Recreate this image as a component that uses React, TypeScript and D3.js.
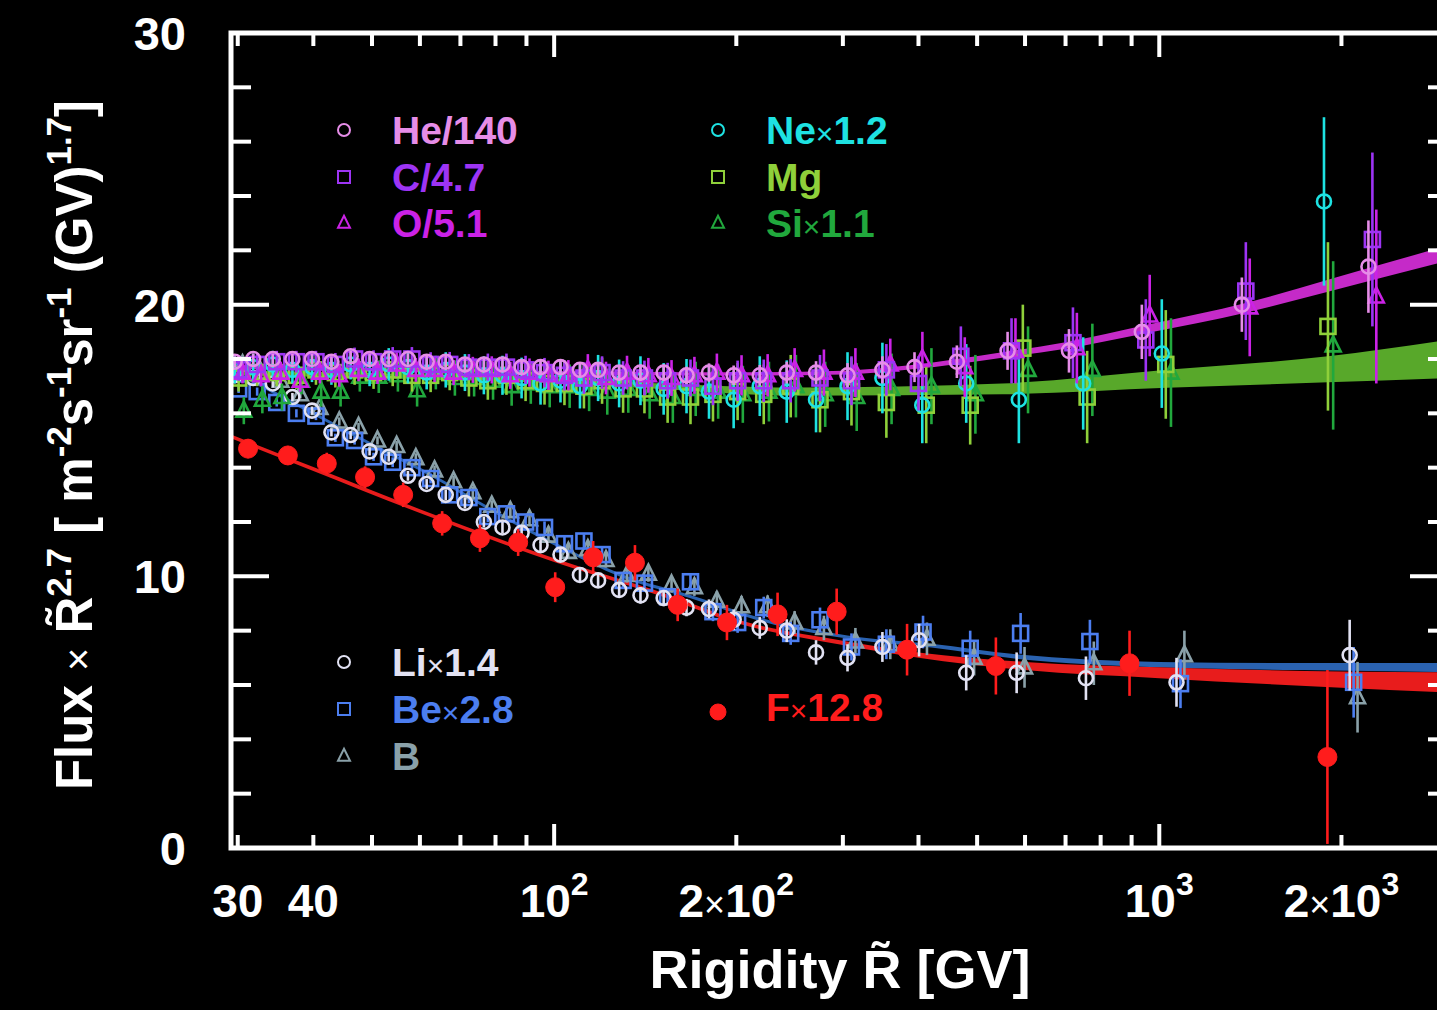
import { useEffect, useRef } from 'react'
import * as d3 from 'd3'

const W = 1437
const H = 1010
const FONT = '"Liberation Sans", Arial, Helvetica, sans-serif'

// rigidity bins (GV) shared below 360 GV
const binsLow = [30.1, 32.3, 34.8, 37.5, 40.4, 43.5, 46.8, 50.3, 54.1, 58.2, 62.5, 67.2, 72.3, 77.7, 83.4, 89.7, 96.4, 104, 112, 120, 130, 141, 154, 168, 183, 201, 222, 246, 275, 310, 354]
const binsHCO = [...binsLow, 400, 470, 570, 720, 950, 1390, 2250]
const binsNMS = [...binsLow, 412, 487, 595, 760, 1025, 1900]
const binsLBB = [...binsLow, 407, 487, 590, 768, 1084, 2095]
const binsF = [31.2, 36.3, 42.1, 48.7, 56.3, 65.3, 75.4, 87.2, 100.4, 116, 136, 160, 193, 234, 293, 383, 537, 893, 1896]

// flux x R^2.7 (scaled)
const heVals = [17.9, 18.0, 18.0, 18.0, 18.0, 17.9, 18.1, 18.0, 18.0, 18.0, 17.9, 17.9, 17.8, 17.8, 17.8, 17.7, 17.7, 17.7, 17.6, 17.6, 17.5, 17.5, 17.5, 17.4, 17.5, 17.4, 17.4, 17.5, 17.5, 17.4, 17.6, 17.7, 17.9, 18.3, 18.3, 19.0, 20.0, 21.4]
const cVals = [17.6, 17.8, 17.9, 17.9, 17.9, 17.8, 18.0, 17.9, 18.0, 18.0, 17.8, 17.8, 17.7, 17.7, 17.7, 17.6, 17.5, 17.4, 17.3, 17.5, 17.3, 17.3, 17.2, 17.3, 17.0, 17.2, 17.2, 17.2, 17.3, 17.2, 17.6, 17.1, 18.1, 18.3, 18.6, 18.7, 20.5, 22.4]
const oVals = [17.5, 17.4, 17.5, 17.2, 17.5, 17.4, 17.6, 17.5, 17.8, 17.6, 17.6, 17.5, 17.6, 17.6, 17.4, 17.5, 17.4, 17.4, 17.6, 17.3, 17.5, 17.4, 17.3, 17.4, 17.5, 17.4, 17.4, 17.6, 17.5, 17.5, 17.8, 18.0, 17.7, 18.3, 18.4, 19.6, 19.9, 20.3]
const neVals = [17.6, 17.7, 17.8, 17.6, 17.7, 17.6, 17.8, 17.6, 17.8, 17.7, 17.5, 17.6, 17.5, 17.4, 17.4, 17.3, 17.1, 17.2, 17.0, 17.3, 17.1, 17.2, 16.9, 17.0, 16.8, 16.5, 17.0, 16.8, 16.5, 17.0, 17.3, 16.3, 17.1, 16.5, 17.1, 18.2, 23.8]
const mgVals = [17.3, 17.5, 17.5, 17.4, 17.6, 17.5, 17.6, 17.5, 17.6, 17.4, 17.4, 17.5, 17.3, 17.2, 17.4, 17.2, 17.1, 17.1, 17.0, 17.2, 16.9, 16.9, 16.6, 16.6, 16.7, 16.8, 16.7, 17.0, 16.5, 16.8, 16.4, 16.3, 16.3, 18.4, 16.6, 17.8, 19.2]
const siVals = [16.1, 16.5, 16.6, 17.2, 16.8, 16.8, 17.35, 17.35, 17.4, 16.85, 17.5, 17.3, 17.3, 17.2, 17.0, 17.1, 17.0, 17.0, 16.9, 16.8, 16.9, 16.7, 16.6, 16.9, 16.8, 16.7, 16.8, 17.0, 16.7, 16.6, 16.9, 17.0, 16.7, 17.6, 17.6, 17.5, 18.5]
const liVals = [17.4, 17.3, 17.1, 16.6, 16.1, 15.3, 15.2, 14.6, 14.4, 13.7, 13.4, 13.0, 12.7, 12.0, 11.8, 11.6, 11.15, 10.8, 10.05, 9.85, 9.5, 9.3, 9.2, 8.85, 8.8, 8.4, 8.1, 8.0, 7.2, 7.0, 7.4, 7.65, 6.45, 6.45, 6.25, 6.1, 7.1]
const beVals = [16.9, 16.8, 16.4, 16.0, 15.9, 15.1, 15.0, 14.4, 14.2, 14.0, 13.6, 13.0, 12.9, 12.2, 12.3, 12.0, 11.8, 11.2, 11.3, 10.8, 9.85, 9.75, 9.25, 9.8, 8.7, 8.3, 8.85, 7.9, 8.4, 7.4, 7.5, 7.95, 7.35, 7.9, 7.6, 6.05, 6.1]
const bVals = [17.8, 17.5, 17.2, 16.7, 16.2, 15.7, 15.5, 15.0, 14.8, 14.35, 13.9, 13.5, 13.1, 12.6, 12.4, 12.1, 11.5, 10.9, 11.0, 10.6, 10.05, 10.1, 9.7, 9.6, 9.1, 8.9, 8.9, 8.3, 8.1, 7.6, 7.5, 7.7, 7.0, 6.65, 6.8, 7.1, 5.55]
const fVals = [14.7, 14.45, 14.15, 13.65, 13.0, 11.95, 11.4, 11.25, 9.6, 10.7, 10.5, 8.95, 8.3, 8.6, 8.7, 7.3, 6.7, 6.8, 3.35]

// errors
const errHe = [0.2, 0.2, 0.2, 0.2, 0.2, 0.2, 0.2, 0.2, 0.2, 0.2, 0.22, 0.22, 0.22, 0.22, 0.24, 0.24, 0.24, 0.25, 0.25, 0.27, 0.28, 0.3, 0.3, 0.32, 0.34, 0.36, 0.38, 0.4, 0.42, 0.45, 0.5, 0.55, 0.6, 0.7, 0.8, 1.0, 1.0, 1.7]
const errCO = [0.4, 0.4, 0.4, 0.4, 0.4, 0.42, 0.42, 0.42, 0.44, 0.44, 0.45, 0.46, 0.48, 0.5, 0.5, 0.52, 0.54, 0.56, 0.58, 0.6, 0.62, 0.64, 0.66, 0.68, 0.7, 0.74, 0.78, 0.8, 0.85, 0.9, 0.95, 1.0, 1.1, 1.2, 1.3, 1.5, 1.8, 3.2]
const errNMS = [0.5, 0.5, 0.5, 0.5, 0.55, 0.55, 0.55, 0.6, 0.6, 0.6, 0.62, 0.65, 0.68, 0.7, 0.72, 0.75, 0.78, 0.8, 0.82, 0.85, 0.88, 0.9, 0.95, 1.0, 1.0, 1.05, 1.1, 1.15, 1.2, 1.25, 1.3, 1.4, 1.45, 1.6, 1.7, 2.0, 3.1]
const errLBB = [0.15, 0.15, 0.15, 0.15, 0.15, 0.15, 0.15, 0.15, 0.18, 0.18, 0.18, 0.2, 0.2, 0.2, 0.22, 0.22, 0.22, 0.25, 0.25, 0.28, 0.28, 0.3, 0.3, 0.32, 0.35, 0.38, 0.4, 0.42, 0.45, 0.5, 0.55, 0.6, 0.65, 0.75, 0.8, 0.9, 1.3]
const errF = [0.35, 0.35, 0.4, 0.4, 0.45, 0.45, 0.5, 0.5, 0.55, 0.6, 0.65, 0.6, 0.65, 0.8, 0.85, 0.95, 1.05, 1.2, 3.2]

// fitted bands: rigidity, centre, half width
const magR = [29.24, 50, 100, 200, 300, 390, 550, 700, 950, 1400, 1900, 3000]
const magC = [17.7, 17.6, 17.5, 17.45, 17.5, 17.7, 18.15, 18.5, 19.1, 19.9, 20.7, 21.9]
const magH = [0.06, 0.06, 0.06, 0.06, 0.07, 0.08, 0.1, 0.12, 0.15, 0.18, 0.22, 0.28]
const grnR = [29.24, 60, 100, 150, 250, 550, 1030, 1900, 3000]
const grnC = [17.5, 17.35, 17.2, 17.0, 16.8, 16.9, 17.27, 17.62, 18.0]
const grnH = [0.09, 0.09, 0.09, 0.1, 0.15, 0.2, 0.33, 0.48, 0.7]
const bluR = [29.24, 40, 50, 63, 78, 100, 130, 168, 220, 320, 420, 580, 1000, 1700, 3000]
const bluC = [17.6, 16.0, 14.85, 13.7, 12.5, 11.2, 10.0, 9.25, 8.4, 7.7, 7.45, 7.05, 6.75, 6.68, 6.64]
const bluH = [0.06, 0.06, 0.06, 0.06, 0.06, 0.06, 0.06, 0.06, 0.06, 0.06, 0.07, 0.08, 0.1, 0.13, 0.17]
const redR = [29.24, 40, 60, 100, 150, 200, 300, 400, 600, 1000, 2000, 3000]
const redC = [15.15, 13.95, 12.4, 10.6, 9.35, 8.35, 7.55, 7.1, 6.7, 6.45, 6.2, 6.1]
const redH = [0.07, 0.07, 0.07, 0.07, 0.07, 0.07, 0.08, 0.1, 0.15, 0.2, 0.3, 0.37]

const xTickMinor = [30, 40, 50, 60, 70, 80, 90, 200, 300, 400, 500, 600, 700, 800, 900, 2000]
const xTickMajor = [100, 1000]
const yTickMinor = [2, 4, 6, 8, 12, 14, 16, 18, 22, 24, 26, 28]
const yTickMajor = [0, 10, 20, 30]

const COL = {
  he: '#e68de8', c: '#9d34f4', o: '#cb22e6', ne: '#1ee2e2', mg: '#8fd03a', si: '#21a83d',
  li: '#e2e2f3', be: '#4c7ef0', b: '#8aa1a9', f: '#ff1c1c',
}

export default function App() {
  const svgRef = useRef(null)

  useEffect(() => {
    const svg = d3.select(svgRef.current)
    svg.selectAll('*').remove()

    const x = d3.scaleLog().domain([29.24, 3000]).range([231, 1448])
    const y = d3.scaleLinear().domain([0, 30]).range([848, 33])
    const X0 = 231, X1 = 1448, Y0 = 848, Y1 = 33

    svg.append('rect').attr('width', W).attr('height', H).attr('fill', '#000')

    svg.append('clipPath').attr('id', 'plotclip').append('rect')
      .attr('x', X0).attr('y', Y1).attr('width', X1 - X0).attr('height', Y0 - Y1)
    const plot = svg.append('g').attr('clip-path', 'url(#plotclip)')

    // fit bands
    const band = (rs, cs, hs, color) => {
      const pts = rs.map((r, i) => ({ r, lo: cs[i] - hs[i], hi: cs[i] + hs[i] }))
      const area = d3.area().x(d => x(d.r)).y0(d => y(d.lo)).y1(d => y(d.hi)).curve(d3.curveMonotoneX)
      plot.append('path').attr('d', area(pts)).attr('fill', color)
    }
    band(grnR, grnC, grnH, '#58a82a')
    band(magR, magC, magH, '#c52ac8')
    band(bluR, bluC, bluH, '#2a62b0')
    band(redR, redC, redH, '#e81c1c')

    const marker = (g, shape, cx, cy, s, color, sw, filled) => {
      if (shape === 'circle') {
        g.append('circle').attr('cx', cx).attr('cy', cy).attr('r', s / 2)
          .attr('fill', filled ? color : 'none').attr('stroke', color).attr('stroke-width', sw)
      } else if (shape === 'square') {
        g.append('rect').attr('x', cx - s / 2).attr('y', cy - s / 2).attr('width', s).attr('height', s)
          .attr('fill', 'none').attr('stroke', color).attr('stroke-width', sw)
      } else {
        const h = s * 1.0
        g.append('path')
          .attr('d', `M${cx},${cy - h * 0.6}L${cx + s / 2},${cy + h * 0.4}L${cx - s / 2},${cy + h * 0.4}Z`)
          .attr('fill', 'none').attr('stroke', color).attr('stroke-width', sw).attr('stroke-linejoin', 'miter')
      }
    }

    const series = [
      { r: binsLBB, v: bVals, e: errLBB, shift: 1.015, shape: 'tri', color: COL.b },
      { r: binsLBB, v: beVals, e: errLBB, shift: 1.0, shape: 'square', color: COL.be },
      { r: binsLBB, v: liVals, e: errLBB, shift: 0.985, shape: 'circle', color: COL.li },
      { r: binsF, v: fVals, e: errF, shift: 1.0, shape: 'circle', color: COL.f, filled: true },
      { r: binsNMS, v: siVals, e: errNMS, shift: 1.02, shape: 'tri', color: COL.si },
      { r: binsNMS, v: mgVals, e: errNMS, shift: 1.0, shape: 'square', color: COL.mg },
      { r: binsNMS, v: neVals, e: errNMS, shift: 0.985, shape: 'circle', color: COL.ne },
      { r: binsHCO, v: oVals, e: errCO, shift: 1.015, shape: 'tri', color: COL.o },
      { r: binsHCO, v: cVals, e: errCO, shift: 1.0, shape: 'square', color: COL.c },
      { r: binsHCO, v: heVals, e: errHe, shift: 0.985, shape: 'circle', color: COL.he },
    ]

    series.forEach(s => {
      const g = plot.append('g')
      s.v.forEach((v, i) => {
        const cx = x(s.r[i] * s.shift)
        g.append('line').attr('x1', cx).attr('x2', cx)
          .attr('y1', y(v - s.e[i])).attr('y2', y(v + s.e[i]))
          .attr('stroke', s.color).attr('stroke-width', 2.6)
        if (s.filled) marker(g, 'circle', cx, y(v), 19, s.color, 1, true)
        else marker(g, s.shape, cx, y(v), s.shape === 'circle' ? 14 : 15, s.color, 2.6, false)
      })
    })

    // frame
    const frame = svg.append('g').attr('stroke', '#ffffff').attr('stroke-linecap', 'square')
    frame.append('rect').attr('x', X0).attr('y', Y1).attr('width', X1 - X0).attr('height', Y0 - Y1)
      .attr('fill', 'none').attr('stroke-width', 5)
    xTickMinor.forEach(t => {
      frame.append('line').attr('x1', x(t)).attr('x2', x(t)).attr('y1', Y0).attr('y2', Y0 - 11).attr('stroke-width', 4)
      frame.append('line').attr('x1', x(t)).attr('x2', x(t)).attr('y1', Y1).attr('y2', Y1 + 11).attr('stroke-width', 4)
    })
    xTickMajor.forEach(t => {
      frame.append('line').attr('x1', x(t)).attr('x2', x(t)).attr('y1', Y0).attr('y2', Y0 - 22).attr('stroke-width', 4)
      frame.append('line').attr('x1', x(t)).attr('x2', x(t)).attr('y1', Y1).attr('y2', Y1 + 22).attr('stroke-width', 4)
    })
    yTickMinor.forEach(t => {
      frame.append('line').attr('x1', X0).attr('x2', X0 + 18).attr('y1', y(t)).attr('y2', y(t)).attr('stroke-width', 4)
      frame.append('line').attr('x1', X1).attr('x2', X1 - 18).attr('y1', y(t)).attr('y2', y(t)).attr('stroke-width', 4)
    })
    yTickMajor.forEach(t => {
      frame.append('line').attr('x1', X0).attr('x2', X0 + 36).attr('y1', y(t)).attr('y2', y(t)).attr('stroke-width', 4)
      frame.append('line').attr('x1', X1).attr('x2', X1 - 36).attr('y1', y(t)).attr('y2', y(t)).attr('stroke-width', 4)
    })

    const txt = svg.append('g').attr('font-family', FONT).attr('font-weight', 'bold').attr('fill', '#fff')

    // y tick labels
    yTickMajor.forEach(t => {
      txt.append('text').attr('x', 186).attr('y', y(t) + 17).attr('text-anchor', 'end')
        .attr('font-size', 47).text(t)
    })

    // x tick labels
    const xLab = (r, pre, exp) => {
      const t = txt.append('text').attr('x', x(r)).attr('y', 917).attr('text-anchor', 'middle').attr('font-size', 46)
      if (exp) {
        if (pre) {
          t.append('tspan').text(pre)
          t.append('tspan').attr('font-weight', 'normal').attr('font-size', 36).text('×')
        }
        t.append('tspan').text('10')
        t.append('tspan').attr('dy', -22).attr('font-size', 32).text(exp)
      } else {
        t.text(pre)
      }
    }
    xLab(30, '30', null)
    xLab(40, '40', null)
    xLab(100, null, '2')
    xLab(200, '2', '2')
    xLab(1000, null, '3')
    xLab(2000, '2', '3')

    // x axis title
    txt.append('text').attr('x', 840).attr('y', 988).attr('text-anchor', 'middle').attr('font-size', 54)
      .text('Rigidity  R\u0303 [GV]')

    // y axis title
    const yt = txt.append('text').attr('transform', 'translate(92,445) rotate(-90)')
      .attr('text-anchor', 'middle').attr('font-size', 51)
    const sup = (s) => yt.append('tspan').attr('dy', -21).attr('font-size', 35).text(s)
    const base = (s) => yt.append('tspan').attr('dy', 21).text(s)
    yt.append('tspan').text('Flux ')
    yt.append('tspan').attr('font-weight', 'normal').attr('font-size', 40).text('×')
    yt.append('tspan').text(' R\u0303')
    sup('2.7')
    base(' [ m')
    sup('-2')
    base('s')
    sup('-1')
    base('sr')
    sup('-1')
    base(' (GV)')
    sup('1.7')
    base(']')

    // legends
    const legend = [
      { label: 'He/140', shape: 'circle', color: COL.he, mx: 344, ty: 130 },
      { label: 'C/4.7', shape: 'square', color: COL.c, mx: 344, ty: 177 },
      { label: 'O/5.1', shape: 'tri', color: COL.o, mx: 344, ty: 223 },
      { label: 'Ne×1.2', shape: 'circle', color: COL.ne, mx: 718, ty: 130 },
      { label: 'Mg', shape: 'square', color: COL.mg, mx: 718, ty: 177 },
      { label: 'Si×1.1', shape: 'tri', color: COL.si, mx: 718, ty: 223 },
      { label: 'Li×1.4', shape: 'circle', color: COL.li, mx: 344, ty: 662 },
      { label: 'Be×2.8', shape: 'square', color: COL.be, mx: 344, ty: 709 },
      { label: 'B', shape: 'tri', color: COL.b, mx: 344, ty: 756 },
      { label: 'F×12.8', shape: 'circle', color: COL.f, mx: 718, ty: 707, filled: true },
    ]
    const lg = svg.append('g')
    legend.forEach(l => {
      if (l.filled) marker(lg, 'circle', l.mx, l.ty + 5, 16, l.color, 1, true)
      else marker(lg, l.shape, l.mx, l.ty, 12, l.color, 2, false)
      const t = lg.append('text').attr('x', l.mx + 48).attr('y', l.ty + 14)
        .attr('font-family', FONT).attr('font-weight', 'bold').attr('font-size', 39).attr('fill', l.color)
      const parts = l.label.split('×')
      t.append('tspan').text(parts[0])
      if (parts.length > 1) {
        t.append('tspan').attr('font-weight', 'normal').attr('font-size', 30).text('×')
        t.append('tspan').text(parts[1])
      }
    })
  }, [])

  return (
    <svg ref={svgRef} width={W} height={H}
      style={{ position: 'absolute', left: 0, top: 0, display: 'block', background: '#000' }} />
  )
}
